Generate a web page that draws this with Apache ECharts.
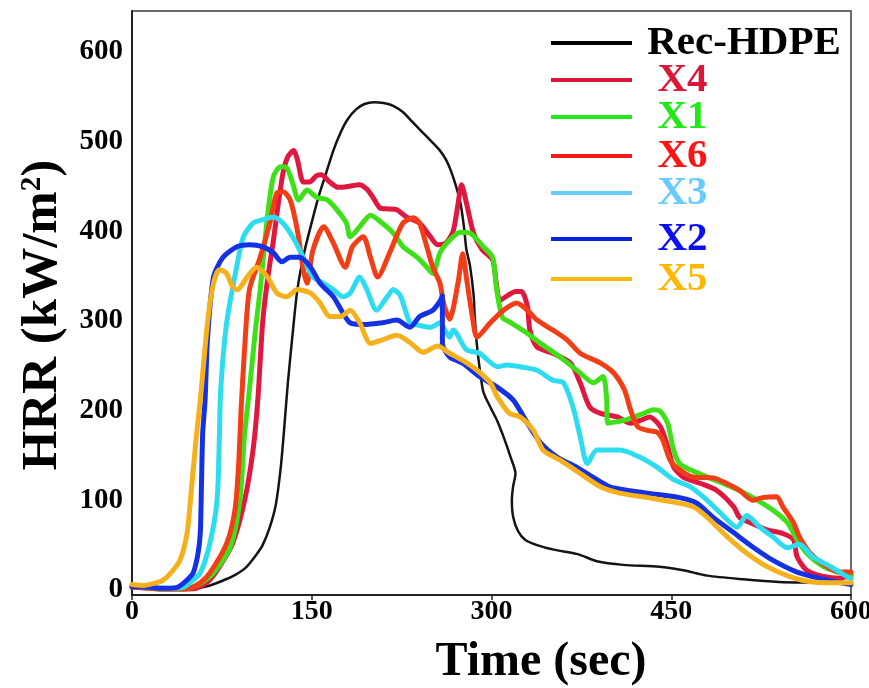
<!DOCTYPE html>
<html><head><meta charset="utf-8">
<script src="https://cdn.jsdelivr.net/npm/echarts@6/dist/echarts.min.js"></script>
<style>html,body{margin:0;padding:0;background:#fff}#c{width:869px;height:688px}</style>
</head><body><div id="c"></div>
<script>
// ---- data (time in s, HRR in kW/m2) ----
const seriesNames = ['Rec-HDPE', 'X4', 'X1', 'X6', 'X3', 'X2', 'X5'];
const xTicks = [0, 150, 300, 450, 600];
const yTicks = [0, 100, 200, 300, 400, 500, 600];

const recHDPE = [[0,3],[15,2],[30,1],[45,1],[55,2],[65,5],[75,10],[85,16],[95,25],[103,38],[109,50],[115,70],[120,95],[124,135],[127,180],[130,230],[134,285],[138,335],[144,378],[150,410],[156,440],[162,465],[168,490],[174,510],[180,525],[187,536],[194,542],[202,544],[210,543],[218,540],[226,533],[234,522],[242,511],[250,500],[257,490],[262,480],[266,468],[270,452],[274,432],[277,405],[279,380],[282,362],[285,330],[286,305],[288,271],[293,222],[299,204],[305,188],[310,171],[316,148],[320,130],[318,115],[317,100],[318,82],[322,66],[328,56],[338,50],[352,45],[372,40],[388,32],[410,28],[440,26],[460,22],[480,16],[510,12],[540,9],[570,8],[600,7]];

const x4 = [[0,3],[15,2],[30,1],[45,1],[54,2],[64,10],[73,26],[84,52],[94,100],[101,156],[105,212],[109,298],[113,345],[118,390],[122,430],[126,465],[130,483],[135,490],[138,480],[143,455],[148,455],[154,462],[158,463],[165,455],[172,449],[180,450],[190,452],[196,447],[201,438],[207,426],[214,425],[221,424],[229,416],[240,409],[249,394],[255,385],[262,387],[268,400],[272,430],[275,452],[279,432],[285,398],[292,380],[301,368],[304,342],[307,323],[313,328],[320,333],[325,333],[330,316],[332,290],[338,271],[351,264],[366,253],[374,231],[382,204],[391,197],[405,193],[416,186],[426,190],[432,193],[441,182],[447,160],[452,137],[460,126],[474,119],[488,111],[502,93],[507,81],[516,75],[530,67],[543,63],[552,56],[555,37],[563,22],[577,15],[591,13],[600,17]];

const x1 = [[0,4],[15,2],[30,1],[40,1],[48,2],[58,8],[68,19],[82,48],[90,100],[94,175],[98,223],[103,290],[107,335],[113,416],[118,461],[124,472],[129,471],[134,454],[139,435],[146,446],[154,438],[163,435],[171,424],[179,409],[182,394],[190,405],[199,418],[209,409],[218,398],[226,383],[238,371],[246,360],[251,353],[257,376],[265,390],[274,399],[282,398],[293,383],[301,371],[304,338],[309,304],[315,299],[330,286],[341,275],[357,260],[374,242],[385,231],[393,238],[396,215],[397,186],[413,190],[427,197],[435,201],[441,199],[447,186],[452,156],[457,141],[466,134],[480,126],[493,119],[507,111],[522,100],[535,89],[547,75],[555,56],[563,41],[577,26],[591,19],[600,15]];

const x6 = [[0,4],[15,2],[30,1],[40,1],[48,2],[57,8],[65,19],[79,52],[86,90],[89,140],[91,200],[94,270],[98,335],[107,371],[115,409],[121,443],[126,444],[132,435],[138,401],[143,357],[146,342],[151,379],[160,405],[168,387],[178,360],[184,383],[193,394],[199,371],[205,349],[215,376],[226,409],[235,415],[240,409],[246,383],[251,360],[257,342],[260,320],[265,302],[272,342],[276,375],[279,349],[284,305],[288,282],[299,298],[310,312],[321,320],[330,312],[338,301],[351,290],[363,279],[374,264],[391,253],[402,242],[411,223],[416,201],[422,182],[430,178],[438,176],[443,167],[449,145],[457,134],[468,126],[485,125],[496,119],[507,111],[518,100],[526,103],[538,104],[543,93],[552,75],[557,59],[566,41],[580,26],[591,20],[600,20]];

const x3 = [[0,5],[15,3],[30,2],[38,2],[43,3],[50,10],[57,19],[65,52],[71,100],[73,175],[74,223],[79,298],[88,365],[93,394],[101,409],[109,413],[118,416],[126,409],[134,394],[143,371],[151,349],[160,342],[168,335],[176,327],[182,331],[190,349],[196,335],[204,312],[213,327],[218,335],[224,328],[232,298],[240,295],[249,293],[257,298],[262,288],[265,282],[268,290],[279,268],[290,264],[305,249],[313,251],[324,249],[338,245],[351,234],[360,231],[368,204],[374,171],[380,141],[388,156],[407,156],[424,148],[438,137],[452,123],[466,115],[480,100],[491,86],[505,70],[513,83],[524,70],[535,59],[547,47],[557,51],[568,37],[583,26],[600,12]];

const x2 = [[0,4],[15,3],[25,2],[32,2],[38,3],[45,10],[51,19],[55,40],[57,64],[58,119],[59,175],[61,212],[63,280],[68,349],[76,371],[88,383],[98,385],[109,383],[118,376],[125,366],[132,371],[140,371],[149,360],[157,342],[168,327],[176,309],[182,298],[193,296],[209,298],[221,301],[232,293],[240,305],[251,312],[257,322],[259,328],[259,275],[265,260],[276,253],[290,238],[305,226],[318,212],[330,186],[341,164],[355,148],[371,137],[388,123],[401,114],[430,108],[457,103],[471,97],[485,81],[502,64],[518,48],[535,33],[555,20],[574,13],[600,6]];

const x5 = [[0,6],[10,5],[20,8],[26,11],[33,20],[40,33],[46,64],[50,119],[54,175],[57,212],[63,298],[68,342],[73,357],[79,353],[84,338],[88,335],[96,349],[104,360],[113,349],[121,331],[129,327],[138,335],[149,331],[157,320],[165,305],[174,305],[182,312],[190,298],[199,275],[209,279],[221,284],[232,276],[243,265],[255,272],[265,264],[276,256],[288,245],[299,231],[305,215],[315,197],[324,193],[335,178],[343,156],[357,145],[374,130],[391,115],[407,108],[430,103],[452,98],[468,93],[480,81],[497,59],[513,41],[530,26],[549,15],[568,9],[600,8]];

// ---- styling ----
const FONT = '"Liberation Serif", "Times New Roman", serif';
const seriesData = [recHDPE, x4, x1, x6, x3, x2, x5];
const lineColors = ['#141414', '#e0173f', '#3fe01a', '#f23e16', '#2edcf0', '#1531e4', '#f4b11c'];
const lineWidths = [2.5, 5, 5, 5, 5, 5, 5];
const legendTextColors = ['#000000', '#d9173a', '#22e81a', '#ff1414', '#66ccff', '#0a10f0', '#ffb700'];
const legendLineColors = ['#000000', '#d9173a', '#22e81a', '#f01a1a', '#66ccff', '#0a22e0', '#ffb800'];
const legendCenters = [43, 80, 117, 156, 193, 239, 279];
const legendPads = [' ', '  ', '  ', '  ', '  ', '  ', '  '];
const LEG_FONT = 41;

const chart = echarts.init(document.getElementById('c'), null, {renderer: 'canvas'});

const legends = seriesNames.map((n, i) => ({
  show: true,
  left: 551,
  top: legendCenters[i] - LEG_FONT / 2,
  padding: 0,
  selectedMode: false,
  icon: 'rect',
  itemWidth: 81,
  itemHeight: 4,
  formatter: (name) => legendPads[i] + name,
  textStyle: {fontFamily: FONT, fontWeight: 'bold', fontSize: LEG_FONT},
  data: [{name: n, itemStyle: {color: legendLineColors[i]}, textStyle: {color: legendTextColors[i], fontFamily: FONT, fontWeight: 'bold', fontSize: LEG_FONT}}]
}));

const series = seriesNames.map((n, i) => ({
  name: n,
  type: 'line',
  data: seriesData[i],
  showSymbol: false,
  symbol: 'none',
  smooth: 0.25,
  color: lineColors[i],
  lineStyle: {color: lineColors[i], width: lineWidths[i], cap: 'round', join: 'round'},
  z: 2 + i,
  animation: false
}));

chart.setOption({
  animation: false,
  backgroundColor: '#ffffff',
  grid: {left: 132, right: 18, top: 11, bottom: 93, show: true, borderColor: '#3a3a3a', borderWidth: 1.5, outerBoundsMode: 'none', containLabel: false},
  legend: legends,
  xAxis: {
    type: 'value', min: 0, max: 600, interval: 150,
    axisLine: {show: true, onZero: false, lineStyle: {color: '#222', width: 2}},
    axisTick: {show: true, inside: false, length: 5, lineStyle: {color: '#222', width: 1.5}},
    axisLabel: {fontFamily: FONT, fontWeight: 'bold', fontSize: 28, color: '#000', margin: 3, showMinLabel: true, showMaxLabel: true, hideOverlap: false},
    splitLine: {show: false},
    name: 'Time (sec)', nameLocation: 'middle', nameGap: 44,
    nameTextStyle: {fontFamily: FONT, fontWeight: 'bold', fontSize: 48, color: '#000', padding: [0, 0, 0, 99]}
  },
  yAxis: {
    type: 'value', min: -5.6, max: 645.7,
    axisLine: {show: true, onZero: false, lineStyle: {color: '#222', width: 2}},
    axisTick: {show: false},
    axisLabel: {customValues: yTicks, fontFamily: FONT, fontWeight: 'bold', fontSize: 29, color: '#000', margin: 9, hideOverlap: false},
    splitLine: {show: false},
    name: 'HRR (kW/m{sup|2})', nameLocation: 'middle', nameGap: 52,
    nameTextStyle: {
      fontFamily: FONT, fontWeight: 'bold', fontSize: 51, color: '#000', padding: [0, 24, 0, 0],
      rich: {sup: {fontFamily: FONT, fontWeight: 'bold', fontSize: 29, color: '#000', verticalAlign: 'top'}}
    }
  },
  series: series
});
</script>
</body></html>
